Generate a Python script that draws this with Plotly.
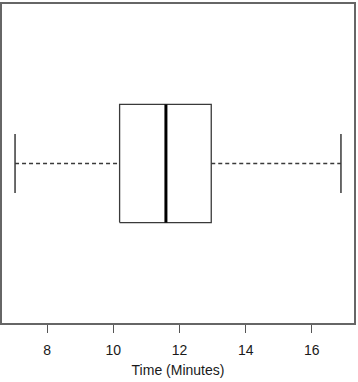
import plotly.graph_objects as go

# Five-number summary (minutes)
whisker_low = 7.03
q1 = 10.19
median = 11.59
q3 = 12.96
whisker_high = 16.88

tick_vals = [8, 10, 12, 14, 16]
tick_text = ["8", "10", "12", "14", "16"]
x_title = "Time (Minutes)"

# style constants
center = 1.0
box_half = 0.2
cap_half = 0.1
line_col = "#3a3a3a"

fig = go.Figure()
# dashed whiskers
fig.add_trace(go.Scatter(x=[whisker_low, q1], y=[center, center], mode="lines",
                         line=dict(color=line_col, width=1.3, dash="4px,3px"), hoverinfo="skip"))
fig.add_trace(go.Scatter(x=[q3, whisker_high], y=[center, center], mode="lines",
                         line=dict(color=line_col, width=1.3, dash="4px,3px"), hoverinfo="skip"))
# staples
for v in [whisker_low, whisker_high]:
    fig.add_trace(go.Scatter(x=[v, v], y=[center - cap_half, center + cap_half], mode="lines",
                             line=dict(color=line_col, width=1.5), hoverinfo="skip"))
# box
fig.add_trace(go.Scatter(x=[q1, q3, q3, q1, q1],
                         y=[center - box_half, center - box_half, center + box_half, center + box_half, center - box_half],
                         mode="lines", line=dict(color=line_col, width=1.3), hoverinfo="skip"))
# median
fig.add_trace(go.Scatter(x=[median, median], y=[center - box_half, center + box_half], mode="lines",
                         line=dict(color="black", width=3), hoverinfo="skip"))

data_min, data_max = whisker_low, whisker_high
pad = 0.04 * (data_max - data_min)

fig.update_layout(
    width=358, height=382,
    margin=dict(l=2, r=3, t=2, b=59),
    paper_bgcolor="white", plot_bgcolor="white",
    showlegend=False,
    font=dict(family="Liberation Sans, Arial, sans-serif", size=14, color="#1a1a1a"),
    xaxis=dict(range=[data_min - pad, data_max + pad], tickvals=tick_vals, ticktext=tick_text,
               ticks="outside", ticklen=8, tickcolor="#555", tickwidth=1.3,
               showline=True, mirror=True, linecolor="#666", linewidth=1.5,
               showgrid=False, zeroline=False, ticklabelstandoff=5,
               tickfont=dict(size=14),
               title=dict(text=x_title, standoff=9, font=dict(size=14))),
    yaxis=dict(range=[0.46, 1.54], showticklabels=False, ticks="",
               showline=True, mirror=True, linecolor="#666", linewidth=1.5,
               showgrid=False, zeroline=False),
)

fig.write_html("out.html", config={"displayModeBar": False},
               post_script="document.body.style.margin='0px';document.body.style.overflow='hidden';")
